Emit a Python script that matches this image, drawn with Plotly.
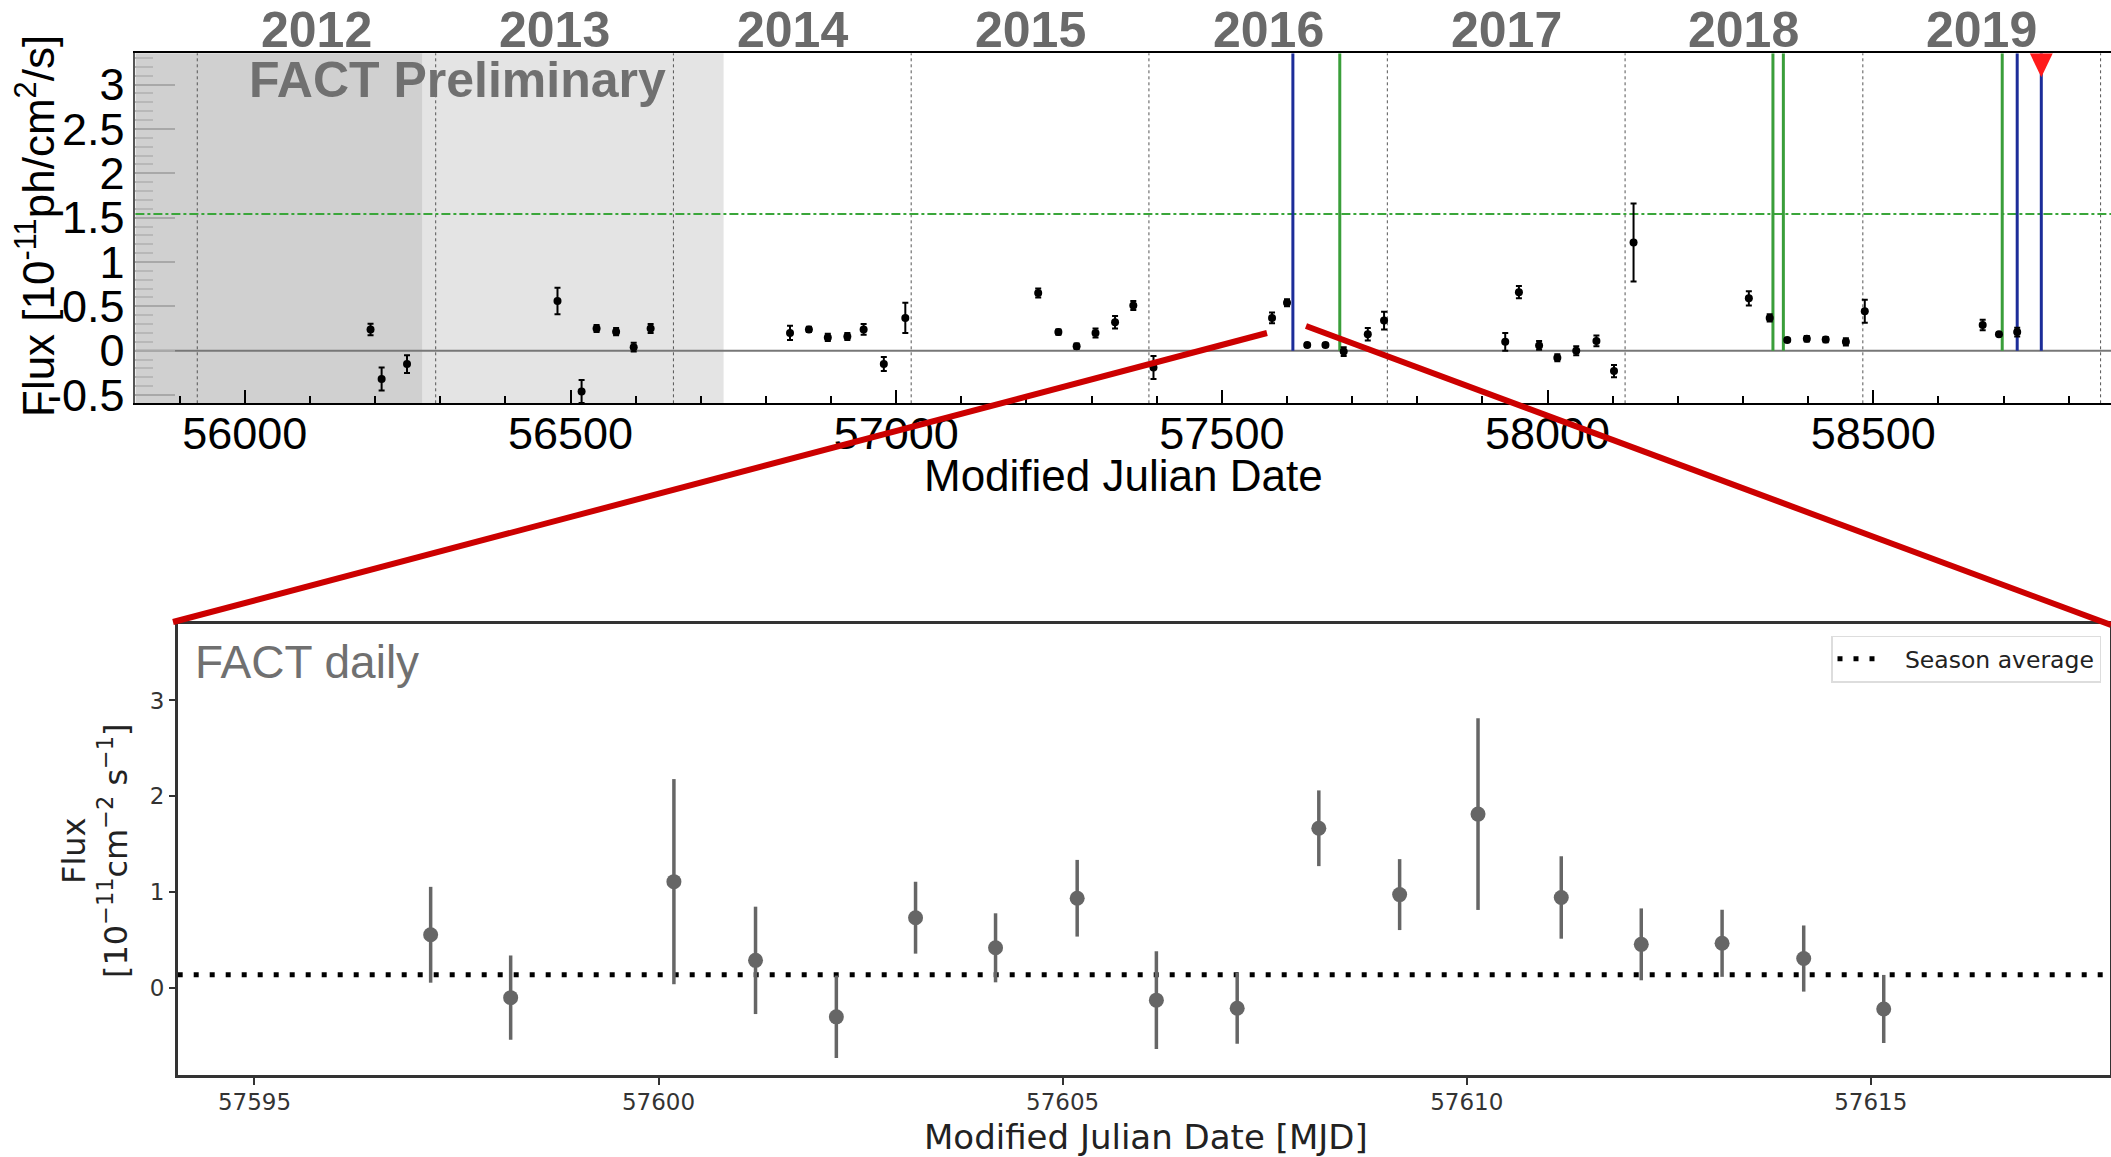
import plotly.graph_objects as go

W, H = 2111, 1157

# ---- long-term light curve (nightly binned) ----
top_mjd = [56193, 56210, 56249, 56480, 56517, 56540, 56570, 56597, 56623,
           56837, 56866, 56895, 56925, 56950, 56981, 57014,
           57218, 57249, 57277, 57306, 57336, 57364, 57395,
           57577, 57600, 57631, 57659, 57687, 57724, 57749,
           57935, 57956, 57987, 58015, 58044, 58075, 58102, 58132,
           58309, 58341, 58368, 58398, 58427, 58458, 58487,
           58668, 58693, 58721]
top_flux = [0.24, -0.32, -0.15, 0.56, -0.46, 0.25, 0.215, 0.04, 0.25,
            0.20, 0.24, 0.15, 0.16, 0.24, -0.15, 0.37,
            0.65, 0.21, 0.05, 0.20, 0.32, 0.51, -0.19,
            0.37, 0.54, 0.065, 0.065, -0.01, 0.185, 0.34,
            0.10, 0.66, 0.06, -0.08, 0.0, 0.11, -0.23, 1.22,
            0.59, 0.37, 0.12, 0.135, 0.125, 0.10, 0.445,
            0.29, 0.185, 0.21]
top_err = [0.065, 0.13, 0.10, 0.15, 0.13, 0.04, 0.04, 0.05, 0.05,
           0.08, 0.03, 0.04, 0.04, 0.06, 0.08, 0.17,
           0.05, 0.03, 0.03, 0.05, 0.07, 0.05, 0.13,
           0.06, 0.04, 0.02, 0.02, 0.05, 0.07, 0.10,
           0.10, 0.07, 0.05, 0.04, 0.05, 0.06, 0.07, 0.44,
           0.08, 0.04, 0.02, 0.03, 0.03, 0.04, 0.13,
           0.06, 0.02, 0.05]

year_starts = [55927, 56293, 56658, 57023, 57388, 57754, 58119, 58484, 58849]
year_labels = ["2012", "2013", "2014", "2015", "2016", "2017", "2018", "2019"]
x_ticks_top = [56000, 56500, 57000, 57500, 58000, 58500]
x_ticktext_top = ["56000", "56500", "57000", "57500", "58000", "58500"]
y_ticks_top = [-0.5, 0, 0.5, 1, 1.5, 2, 2.5, 3]
y_ticktext_top = ["-0.5", "0", "0.5", "1", "1.5", "2", "2.5", "3"]

dark_season = [55832, 56273]
light_season = [56273, 56735]
flare_threshold = 1.54
blue_events = [57609, 58721, 58758]
green_events = [57681, 58346, 58362, 58698]
alert_mjd = 58758

top_xrange = [55832, 58865]
top_yrange = [-0.593, 3.353]

# ---- zoom: FACT daily points ----
daily_mjd = [57597.18, 57598.17, 57600.19, 57601.2, 57602.2, 57603.18,
             57604.17, 57605.18, 57606.16, 57607.16, 57608.17, 57609.17,
             57610.14, 57611.17, 57612.16, 57613.16, 57614.17, 57615.16]
daily_flux = [0.556, -0.10, 1.11, 0.289, -0.30, 0.734,
              0.42, 0.937, -0.126, -0.21, 1.667, 0.975,
              1.815, 0.945, 0.456, 0.467, 0.308, -0.218]
daily_err = [0.50, 0.44, 1.07, 0.56, 0.43, 0.375,
             0.36, 0.40, 0.51, 0.37, 0.395, 0.37,
             1.00, 0.43, 0.375, 0.35, 0.345, 0.355]
season_average = 0.14
x_ticks_daily = [57595, 57600, 57605, 57610, 57615]
x_ticktext_daily = ["57595", "57600", "57605", "57610", "57615"]
y_ticks_daily = [0, 1, 2, 3]
y_ticktext_daily = ["0", "1", "2", "3"]
daily_xrange = [57594.05, 57617.96]
daily_yrange = [-0.91, 3.80]


def px(x):
    return x / W


def py(y):
    return 1 - y / H


TOPFONT = "Liberation Sans, Arial, sans-serif"
BOTFONT = "DejaVu Sans, sans-serif"

fig = go.Figure()

fig.add_trace(go.Scatter(
    x=top_mjd, y=top_flux, mode="markers",
    marker=dict(color="black", size=8),
    error_y=dict(type="data", array=top_err, color="black", thickness=2, width=3),
    xaxis="x", yaxis="y", showlegend=False, cliponaxis=True))

fig.add_trace(go.Scatter(
    x=daily_xrange, y=[season_average, season_average], mode="lines",
    line=dict(color="black", width=5, dash="5px,11px"),
    name="\u00a0\u00a0\u00a0Season average", xaxis="x2", yaxis="y2", showlegend=True))

fig.add_trace(go.Scatter(
    x=daily_mjd, y=daily_flux, mode="markers",
    marker=dict(color="#666666", size=15),
    error_y=dict(type="data", array=daily_err, color="#666666", thickness=3.5, width=0),
    xaxis="x2", yaxis="y2", showlegend=False))

shapes = []
# observing-season shading
shapes.append(dict(type="rect", xref="x", yref="y domain", x0=dark_season[0], x1=dark_season[1],
                   y0=0, y1=1, fillcolor="#d0d0d0", line=dict(width=0), layer="below"))
shapes.append(dict(type="rect", xref="x", yref="y domain", x0=light_season[0], x1=light_season[1],
                   y0=0, y1=1, fillcolor="#e4e4e4", line=dict(width=0), layer="below"))
# year boundaries
for ys in year_starts:
    shapes.append(dict(type="line", xref="x", yref="y domain", x0=ys, x1=ys, y0=0, y1=1,
                       line=dict(color="#555555", width=1, dash="dot"), layer="below"))
# zero level and threshold
shapes.append(dict(type="line", xref="x domain", yref="y", x0=0, x1=1, y0=0, y1=0,
                   line=dict(color="#777777", width=2), layer="below"))
shapes.append(dict(type="line", xref="x domain", yref="y", x0=0, x1=1,
                   y0=flare_threshold, y1=flare_threshold,
                   line=dict(color="#3aa63a", width=2, dash="dashdot"), layer="below"))
for g in green_events:
    shapes.append(dict(type="line", xref="x", yref="y", x0=g, x1=g, y0=0, y1=top_yrange[1],
                       line=dict(color="#3a9e3a", width=3), layer="below"))
for b in blue_events:
    shapes.append(dict(type="line", xref="x", yref="y", x0=b, x1=b, y0=0, y1=top_yrange[1],
                       line=dict(color="#1c2d99", width=3), layer="below"))
# alert marker on the upper edge
shapes.append(dict(type="path", xref="x", yref="y", xsizemode="pixel", ysizemode="pixel",
                   xanchor=alert_mjd, yanchor=top_yrange[1],
                   path="M-11.5,0 L11.5,0 L0,-24 Z", fillcolor="#ff1a1a",
                   line=dict(width=0), layer="above"))
# zoom connector lines
shapes.append(dict(type="line", xref="paper", yref="paper",
                   x0=px(1267), y0=py(333), x1=px(173), y1=py(622),
                   line=dict(color="#cc0000", width=6), layer="above"))
shapes.append(dict(type="line", xref="paper", yref="paper",
                   x0=px(1306), y0=py(326), x1=px(2111), y1=py(625),
                   line=dict(color="#cc0000", width=6), layer="above"))

annotations = []
for i, lab in enumerate(year_labels):
    mid = (year_starts[i] + year_starts[i + 1]) / 2
    annotations.append(dict(x=mid, y=py(30), xref="x", yref="paper", text=lab, showarrow=False,
                            font=dict(family=TOPFONT, size=50, color="#6a6a6a", weight="bold"),
                            xanchor="center", yanchor="middle"))
annotations.append(dict(x=px(247), y=py(80), xref="paper", yref="paper", text="FACT Preliminary",
                        showarrow=False, xanchor="left", yanchor="middle",
                        font=dict(family=TOPFONT, size=50, color="#707070", weight="bold")))
annotations.append(dict(x=px(36), y=py(226), xref="paper", yref="paper",
                        text="Flux [10<sup>-11</sup>ph/cm<sup>2</sup>/s]", textangle=-90,
                        showarrow=False, xanchor="center", yanchor="middle",
                        font=dict(family=TOPFONT, size=44, color="black")))
annotations.append(dict(x=px(1123), y=py(475), xref="paper", yref="paper",
                        text="Modified Julian Date", showarrow=False,
                        xanchor="center", yanchor="middle",
                        font=dict(family=TOPFONT, size=44, color="black")))
annotations.append(dict(x=px(193), y=py(662), xref="paper", yref="paper", text="FACT daily",
                        showarrow=False, xanchor="left", yanchor="middle",
                        font=dict(family=TOPFONT, size=46, color="#707070")))
annotations.append(dict(x=px(95), y=py(851), xref="paper", yref="paper",
                        text="Flux<br>[10<sup>−11</sup>cm<sup>−2</sup> s<sup>−1</sup>]",
                        textangle=-90, showarrow=False, xanchor="center", yanchor="middle",
                        font=dict(family=BOTFONT, size=32, color="#222222")))
annotations.append(dict(x=px(1146), y=py(1137), xref="paper", yref="paper",
                        text="Modified Julian Date [MJD]", showarrow=False,
                        xanchor="center", yanchor="middle",
                        font=dict(family=BOTFONT, size=34, color="#222222")))

fig.update_layout(
    width=W, height=H, margin=dict(l=0, r=0, t=0, b=0, autoexpand=False),
    paper_bgcolor="white", plot_bgcolor="white",
    shapes=shapes, annotations=annotations,
    xaxis=dict(domain=[px(135.4), 1.0], range=top_xrange, anchor="y",
               tickmode="array", tickvals=x_ticks_top, ticktext=x_ticktext_top,
               ticks="inside", ticklen=13, tickwidth=1.5, tickcolor="black",
               ticklabelstandoff=-10,
               minor=dict(dtick=100, ticks="inside", ticklen=7, tickcolor="black"),
               showline=True, linecolor="black", linewidth=2, mirror=True,
               showgrid=False, zeroline=False,
               tickfont=dict(family=TOPFONT, size=45, color="black")),
    yaxis=dict(domain=[py(403.3), py(53.3)], range=top_yrange, anchor="x",
               tickmode="array", tickvals=y_ticks_top, ticktext=y_ticktext_top,
               ticks="inside", ticklen=40, tickcolor="#a8a8a8", tickwidth=1.5,
               minor=dict(dtick=0.1, ticks="inside", ticklen=18, tickcolor="#b8b8b8"),
               showline=True, linecolor="#555555", linewidth=1.5,
               showgrid=False, zeroline=False,
               tickfont=dict(family=TOPFONT, size=45, color="black")),
    xaxis2=dict(domain=[px(177.7), px(2110)], range=daily_xrange, anchor="y2",
                tickmode="array", tickvals=x_ticks_daily, ticktext=x_ticktext_daily,
                ticks="outside", ticklen=7, tickcolor="#333333", tickwidth=1.5,
                ticklabelstandoff=-3,
                showline=True, linecolor="#333333", linewidth=2.5, mirror=True,
                showgrid=False, zeroline=False,
                tickfont=dict(family=BOTFONT, size=23, color="#333333")),
    yaxis2=dict(domain=[py(1075.3), py(623.8)], range=daily_yrange, anchor="x2",
                tickmode="array", tickvals=y_ticks_daily, ticktext=y_ticktext_daily,
                ticks="outside", ticklen=6, tickcolor="#333333", tickwidth=1.5,
                showline=True, linecolor="#333333", linewidth=2.5, mirror=True,
                showgrid=False, zeroline=False,
                tickfont=dict(family=BOTFONT, size=23, color="#333333")),
    legend=dict(x=px(2101), y=py(635.5), xanchor="right", yanchor="top",
                bgcolor="white", bordercolor="#dddddd", borderwidth=1.5, itemwidth=40,
                font=dict(family=BOTFONT, size=23.5, color="#222222")),
)

fig.write_html("out.html")
